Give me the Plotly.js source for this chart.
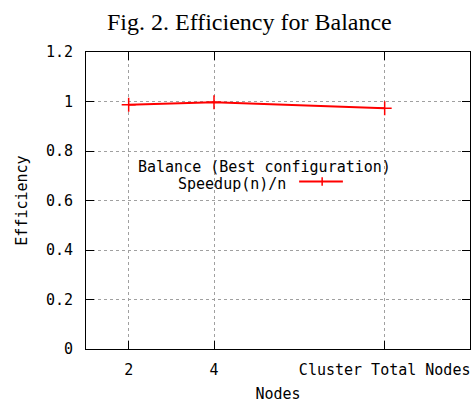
<!DOCTYPE html>
<html>
<head>
<meta charset="utf-8">
<script src="https://cdn.plot.ly/plotly-3.0.1.min.js"></script>
<style>html,body{margin:0;padding:0;background:#fff;}#chart{width:475px;height:403px;}</style>
</head>
<body>
<div id="chart"></div>
<script>
// Data
var nodes = [2, 4, 8];
var efficiency = [0.987, 0.997, 0.973];
var xTickLabels = ["2", "4", "Cluster Total Nodes"];
var yTicks = [0, 0.2, 0.4, 0.6, 0.8, 1, 1.2];
var seriesName = "Speedup(n)/n";
var legendTitle = "Balance (Best configuration)";

var mono = "DejaVu Sans Mono, monospace";
var red = "#ff0000";

var trace = {
  x: nodes,
  y: efficiency,
  type: "scatter",
  mode: "lines+markers",
  name: seriesName,
  line: {color: red, width: 2, shape: "linear"},
  marker: {symbol: "cross-thin", size: 10, color: red, line: {color: red, width: 1.5}},
  showlegend: false,
  hoverinfo: "x+y"
};

var layout = {
  width: 475,
  height: 403,
  margin: {l: 86, r: 5, t: 52, b: 54},
  paper_bgcolor: "#fff",
  plot_bgcolor: "#fff",
  showlegend: false,
  title: {
    text: "Fig. 2. Efficiency for Balance",
    font: {family: "Liberation Serif, Times New Roman, serif", size: 24, color: "#000"},
    x: 0.525, xanchor: "center", y: 0.947, yanchor: "middle"
  },
  xaxis: {
    range: [1, 10],
    tickmode: "array",
    tickvals: nodes,
    ticktext: xTickLabels,
    ticks: "inside",
    ticklen: 8,
    tickcolor: "#000",
    ticklabelstandoff: 7,
    showline: true,
    linecolor: "#000",
    linewidth: 1,
    mirror: "ticks",
    showgrid: true,
    gridcolor: "#a0a0a0",
    griddash: "dot",
    gridwidth: 1,
    zeroline: false,
    tickfont: {family: mono, size: 15, color: "#000"},
    title: {text: "Nodes", font: {family: mono, size: 15, color: "#000"}, standoff: 16}
  },
  yaxis: {
    range: [0, 1.2],
    tickmode: "array",
    tickvals: yTicks,
    ticks: "inside",
    ticklen: 8,
    tickcolor: "#000",
    ticklabelstandoff: 9,
    showline: true,
    linecolor: "#000",
    linewidth: 1,
    mirror: "ticks",
    showgrid: true,
    gridcolor: "#a0a0a0",
    griddash: "dot",
    gridwidth: 1,
    zeroline: false,
    tickfont: {family: mono, size: 15, color: "#000"},
    title: {text: "Efficiency", font: {family: mono, size: 15, color: "#000"}, standoff: 14}
  },
  annotations: [
    {xref: "paper", yref: "paper", x: 0.80, y: 0.612, xanchor: "right", yanchor: "middle",
     text: legendTitle, showarrow: false, font: {family: mono, size: 15, color: "#000"}},
    {xref: "paper", yref: "paper", x: 0.526, y: 0.556, xanchor: "right", yanchor: "middle",
     text: seriesName, showarrow: false, font: {family: mono, size: 15, color: "#000"}}
  ],
  shapes: [
    {type: "line", xref: "paper", yref: "paper", x0: 0.555, x1: 0.669, y0: 0.564, y1: 0.564,
     line: {color: red, width: 2}},
    {type: "line", xref: "paper", yref: "paper", x0: 0.615, x1: 0.615, y0: 0.55, y1: 0.578,
     line: {color: red, width: 1.5}}
  ]
};

Plotly.newPlot("chart", [trace], layout, {displayModeBar: false, staticPlot: true});
</script>
</body>
</html>
